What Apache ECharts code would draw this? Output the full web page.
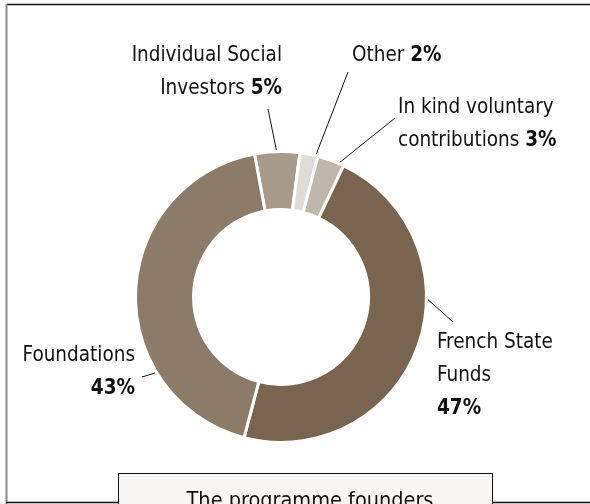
<!DOCTYPE html>
<html>
<head>
<meta charset="utf-8">
<script src="https://cdn.jsdelivr.net/npm/echarts@6/dist/echarts.min.js"></script>
<style>
  html, body { margin: 0; padding: 0; background: #fff; }
  #chart { width: 590px; height: 504px; }
</style>
</head>
<body>
<div id="chart"></div>
<script>
// Funding sources of the programme, in percent
const categories = ['Individual Social\nInvestors', 'Other', 'In kind voluntary\ncontributions', 'French State\nFunds', 'Foundations'];
const shares = [5, 2, 3, 47, 43];
// whether the percentage goes on its own line under the name
const shareOnNewLine = [false, false, false, true, true];
const colors = ['#a89a8b', '#e0dbd6', '#c1b6ab', '#79654f', '#8c7b69'];

const CX = 281, CY = 297, R_OUT = 144, R_IN = 89;
const FONT = '"DejaVu Sans Condensed", "Liberation Sans Narrow", Arial, sans-serif';
const FS = 20.5;

// label placement: text anchor, alignment, and leader line (ring angle in deg clockwise from top -> end point)
const placement = [
  { x: 282, y: 39,  align: 'right', angle: -1.6,  end: [268, 109] },
  { x: 352, y: 39,  align: 'left',  angle: 13.7,  end: [348, 72] },
  { x: 398, y: 91,  align: 'left',  angle: 23,    end: [395, 118] },
  { x: 437, y: 326, align: 'left',  angle: 90,    end: [453, 322] },
  { x: 135, y: 339, align: 'right', angle: 238.6, end: [142, 377] }
];

function ringPoint(deg) {
  const a = deg * Math.PI / 180;
  return [CX + R_OUT * Math.sin(a), CY - R_OUT * Math.cos(a)];
}

const chart = echarts.init(document.getElementById('chart'), null, { renderer: 'canvas' });

chart.setOption({
  animation: false,
  backgroundColor: '#ffffff',
  title: {
    text: 'The programme founders',
    left: 305,
    top: 485,
    textAlign: 'center',
    z: 30,
    textStyle: { fontFamily: FONT, fontSize: 21.5, fontWeight: 'normal', color: '#111' }
  },
  graphic: [
    // frame
    { type: 'line', shape: { x1: 7, y1: 4.5, x2: 590, y2: 4.5 }, style: { stroke: '#111', lineWidth: 1.5 }, z: 1 },
    { type: 'line', shape: { x1: 6.5, y1: 4, x2: 6.5, y2: 504 }, style: { stroke: '#8a8a8a', lineWidth: 2 }, z: 1 },
    { type: 'line', shape: { x1: 6, y1: 502.5, x2: 590, y2: 502.5 }, style: { stroke: '#111', lineWidth: 1.5 }, z: 1 },
    // caption box
    { type: 'rect', shape: { x: 118.5, y: 473.5, width: 374, height: 40 }, style: { fill: '#f8f7f5', stroke: '#111', lineWidth: 1 }, z: 2 }
  ],
  series: [{
    type: 'pie',
    center: [CX, CY],
    radius: [R_IN - 1.5, R_OUT + 1.5],
    startAngle: 100.5,
    clockwise: true,
    avoidLabelOverlap: false,
    itemStyle: { borderColor: '#ffffff', borderWidth: 3 },
    emphasis: { disabled: true },
    label: {
      show: true,
      color: '#111',
      fontFamily: FONT,
      formatter: function (p) {
        const i = p.dataIndex;
        const lines = categories[i].split('\n').map(function (s) { return '{n|' + s + '}'; });
        const pct = '{b|' + shares[i] + '%}';
        if (shareOnNewLine[i]) {
          lines.push(pct);
        } else {
          lines[lines.length - 1] += '{n| }' + pct;
        }
        return lines.join('\n');
      },
      rich: {
        n: { fontFamily: FONT, fontSize: FS, lineHeight: 33, color: '#111' },
        b: { fontFamily: FONT, fontSize: FS, lineHeight: 33, fontWeight: 'bold', color: '#111' }
      }
    },
    labelLine: { show: true, lineStyle: { color: '#111', width: 1 } },
    labelLayout: function (params) {
      const pl = placement[params.dataIndex];
      const start = ringPoint(pl.angle);
      return {
        x: pl.x,
        y: pl.y,
        align: pl.align,
        verticalAlign: 'top',
        labelLinePoints: [start, pl.end, pl.end]
      };
    },
    data: categories.map(function (c, i) {
      return { name: c, value: shares[i], itemStyle: { color: colors[i] } };
    })
  }]
});
</script>
</body>
</html>
